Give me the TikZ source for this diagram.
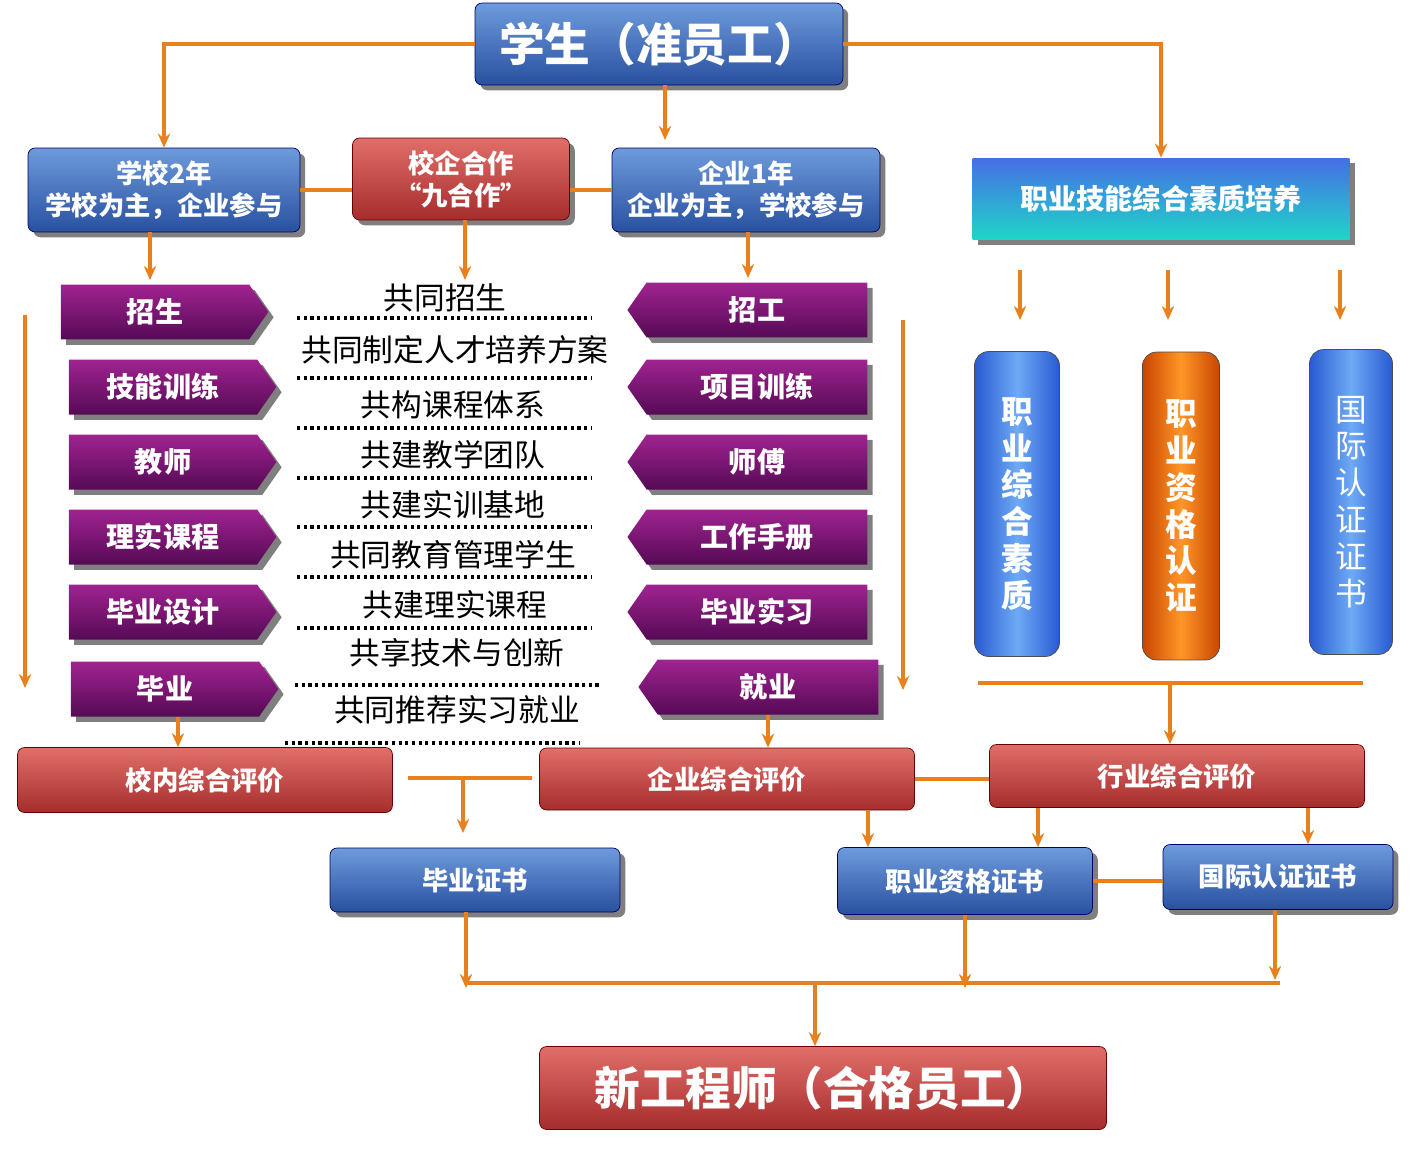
\documentclass[tikz,border=0pt]{standalone}
\usepackage{fontspec}
\setmainfont{Noto Sans CJK SC}
\usetikzlibrary{shapes.symbols, shapes.geometric, arrows.meta, positioning, shadows, calc}
\definecolor{linecol}{HTML}{E8801E}
\tikzset{
    bluebox/.style={rectangle, rounded corners=4pt, draw=blue!40!black, top color={rgb,255:red,110;green,155;blue,220}, bottom color={rgb,255:red,40;green,80;blue,160}, text=white, font=\bfseries\fontsize{15}{18}\selectfont, align=center, drop shadow={shadow xshift=3pt, shadow yshift=-3pt, fill=black}},
    redbox/.style={rectangle, rounded corners=4pt, draw=red!40!black, top color={rgb,255:red,225;green,110;blue,105}, bottom color={rgb,255:red,165;green,45;blue,45}, text=white, font=\bfseries\fontsize{15}{18}\selectfont, align=center},
    tealbox/.style={rectangle, top color={rgb,255:red,70;green,110;blue,230}, bottom color={rgb,255:red,30;green,215;blue,200}, text=white, font=\bfseries\fontsize{16}{19}\selectfont, drop shadow={shadow xshift=3pt, shadow yshift=-3pt, fill=black}},
    arrowR/.style={signal, signal to=east, signal pointer angle=110, minimum height=1.1cm, minimum width=4.15cm, top color={rgb,255:red,160;green,35;blue,145}, bottom color={rgb,255:red,85;green,10;blue,85}, text=white, font=\bfseries\fontsize{16}{19}\selectfont, drop shadow={shadow xshift=3pt, shadow yshift=-3pt, fill=black}},
    arrowL/.style={arrowR, signal to=west, minimum width=4.8cm},
    capsule/.style={rectangle, rounded corners=8pt, draw=black!70, left color={rgb,255:red,40;green,90;blue,210}, right color={rgb,255:red,40;green,90;blue,210}, middle color={rgb,255:red,110;green,170;blue,245}, text=white, font=\bfseries\fontsize{18}{21}\selectfont, align=center},
    coop/.style={font=\fontsize{17.5}{20}\selectfont},
    dots/.style={dotted, line width=1.8pt},
    conn/.style={linecol, line width=1.8pt},
    arrow/.style={conn, -{Stealth[length=8pt,width=7pt]}},
}
\begin{document}
\begin{tikzpicture}[x=0.02cm, y=-0.02cm]
    \useasboundingbox (0,0) rectangle (1425,1149);
    % top row
    \node[bluebox, minimum width=7.36cm, minimum height=1.64cm, font=\bfseries\fontsize{26}{30}\selectfont] (student) at (659,44) {学生（准员工）};
    \node[bluebox, minimum width=5.44cm, minimum height=1.68cm] (school) at (164,190) {学校2年\\学校为主，企业参与};
    \node[redbox, minimum width=4.34cm, minimum height=1.64cm, drop shadow={shadow xshift=3pt, shadow yshift=-3pt, fill=black}] (coop) at (461,179) {校企合作\\“九合作”};
    \node[bluebox, minimum width=5.36cm, minimum height=1.68cm] (firm) at (746,190) {企业1年\\企业为主，学校参与};
    \node[tealbox, minimum width=7.54cm, minimum height=1.64cm] (skill) at (1161,199) {职业技能综合素质培养};
    \coordinate (mid) at (665,140);
    \draw[arrow] (student.west) -| (school.north);
    \draw[arrow] (student.east) -| (skill.north);
    \draw[arrow] (student.south -| mid) -- (mid);
    \draw[conn] (school.east) -- (coop.west |- school.east);
    \draw[conn] (coop.east |- firm.west) -- (firm.west);
    % school / firm steps
    \node[arrowR] (s1) at (155,312) {招生};
    \node[arrowR] (s2) at (163,387) {技能训练};
    \node[arrowR] (s3) at (163,462) {教师};
    \node[arrowR] (s4) at (163,537) {理实课程};
    \node[arrowR] (s5) at (163,612) {毕业设计};
    \node[arrowR] (s6) at (165,689) {毕业};
    \node[arrowL] (f1) at (757,310) {招工};
    \node[arrowL] (f2) at (757,387) {项目训练};
    \node[arrowL] (f3) at (757,462) {师傅};
    \node[arrowL] (f4) at (757,537) {工作手册};
    \node[arrowL] (f5) at (757,612) {毕业实习};
    \node[arrowL] (f6) at (768,687) {就业};
    \draw[arrow] (school.south -| 150,0) -- (150,280);
    \draw[arrow] (coop.south -| 465,0) -- (465,280);
    \draw[arrow] (firm.south -| 748,0) -- (748,278);
    % nine cooperations
    \node[coop] (c1) at (445,298) {共同招生};
    \node[coop] (c2) at (455,350) {共同制定人才培养方案};
    \node[coop] (c3) at (453,405) {共构课程体系};
    \node[coop] (c4) at (453,455) {共建教学团队};
    \node[coop] (c5) at (453,505) {共建实训基地};
    \node[coop] (c6) at (453,555) {共同教育管理学生};
    \node[coop] (c7) at (455,605) {共建理实课程};
    \node[coop] (c8) at (457,653) {共享技术与创新};
    \node[coop] (c9) at (457,710) {共同推荐实习就业};
    \foreach \y in {318,378,428,478,527,577,628}
        \draw[dots] (297,\y) -- (592,\y);
    \draw[dots] (295,685) -- (600,685);
    \draw[dots] (285,743) -- (580,743);
    \draw[arrow] (25,315) -- (25,688);
    \draw[arrow] (903,320) -- (903,690);
    % qualities
    \foreach \x in {1020,1168,1340}
        \draw[arrow] (\x,270) -- (\x,320);
    \node[capsule, minimum width=1.7cm, minimum height=6.1cm] (q1) at (1017,504) {职\\业\\综\\合\\素\\质};
    \node[capsule, minimum width=1.54cm, minimum height=6.16cm, left color={rgb,255:red,200;green,70;blue,0}, right color={rgb,255:red,200;green,70;blue,0}, middle color={rgb,255:red,255;green,150;blue,40}] (q2) at (1181,506) {职\\业\\资\\格\\认\\证};
    \node[capsule, minimum width=1.66cm, minimum height=6.1cm, font=\fontsize{18}{21}\selectfont] (q3) at (1351,502) {国\\际\\认\\证\\证\\书};
    \draw[conn] (978,683) -- (1363,683);
    % evaluations
    \node[redbox, minimum width=7.5cm, minimum height=1.3cm] (inner) at (205,780) {校内综合评价};
    \node[redbox, minimum width=7.5cm, minimum height=1.24cm] (corp) at (727,779) {企业综合评价};
    \node[redbox, minimum width=7.5cm, minimum height=1.26cm] (trade) at (1177,776) {行业综合评价};
    \draw[arrow] (s6.south -| 178,0) -- (inner.north -| 178,0);
    \draw[arrow] (f6.south -| 768,0) -- (corp.north -| 768,0);
    \draw[arrow] (1170,683) -- (trade.north -| 1170,0);
    \draw[conn] (408,778) -- (532,778);
    \draw[conn] (corp.east) -- (trade.west |- corp.east);
    % certificates
    \node[bluebox, minimum width=5.8cm, minimum height=1.28cm] (grad) at (475,880) {毕业证书};
    \node[bluebox, minimum width=5.1cm, minimum height=1.34cm] (qual) at (965,881) {职业资格证书};
    \node[bluebox, minimum width=4.6cm, minimum height=1.3cm] (intl) at (1278,877) {国际认证证书};
    \draw[arrow] (463,778) -- (463,833);
    \draw[arrow] (corp.south -| 868,0) -- (qual.north -| 868,0);
    \draw[arrow] (trade.south -| 1038,0) -- (qual.north -| 1038,0);
    \draw[arrow] (trade.south -| 1308,0) -- (intl.north -| 1308,0);
    \draw[conn] (qual.east) -- (intl.west |- qual.east);
    % final
    \node[redbox, minimum width=11.34cm, minimum height=1.66cm, font=\bfseries\fontsize{26}{30}\selectfont] (eng) at (823,1088) {新工程师（合格员工）};
    \draw[arrow] (grad.south -| 466,0) -- (466,988);
    \draw[arrow] (qual.south -| 965,0) -- (965,988);
    \draw[arrow] (intl.south -| 1275,0) -- (1275,980);
    \draw[conn] (466,983) -- (1280,983);
    \draw[arrow] (815,983) -- (eng.north -| 815,0);
\end{tikzpicture}
\end{document}
